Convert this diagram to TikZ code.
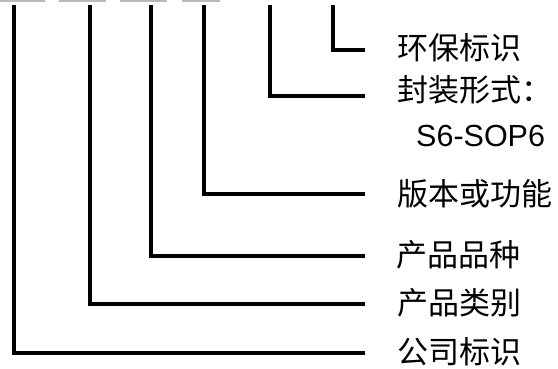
\documentclass[tikz,border=0pt]{standalone}
\usepackage{fontspec}
\setmainfont{Liberation Sans}
\newfontfamily\cjk{Noto Sans CJK SC}
\usetikzlibrary{positioning}

\begin{document}
\begin{tikzpicture}[x=1pt,y=-1pt,
        lead/.style={line width=3.2pt},
        lbl/.style={inner sep=0pt, font=\cjk\fontsize{31}{34}\selectfont},
        code/.style={inner sep=0pt, anchor=west, font=\fontsize{30.5}{34}\selectfont}]
        \useasboundingbox (0,0) rectangle (558,369);
        \draw[gray!55, line width=2pt] (0,1) -- (45,1) (59,1) -- (106,1) (120,1) -- (167,1) (182,1) -- (220,1);

        \coordinate (t0) at (14,5);
        \coordinate (t1) at (90,5);
        \coordinate (t2) at (151,5);
        \coordinate (t3) at (204,5);
        \coordinate (t4) at (270,5);
        \coordinate (t5) at (333,5);

        \coordinate (e0) at (365,353);
        \coordinate (e1) at (365,304);
        \coordinate (e2) at (365,256);
        \coordinate (e3) at (365,194);
        \coordinate (e4) at (365,96);
        \coordinate (e5) at (365,50);

        \node[lbl, right=32pt of e0, yshift=1pt] (company) {公司标识};
        \node[lbl, right=32pt of e1, yshift=1pt] (category) {产品类别};
        \node[lbl, right=31pt of e2, yshift=1pt] (variety) {产品品种};
        \node[lbl, right=32pt of e3] (version) {版本或功能};
        \node[lbl, right=32pt of e4, yshift=6pt] (package) {封装形式：};
        \node[code] (pkgcode) at (416,136) {S6-SOP6};
        \node[lbl, right=32pt of e5, yshift=2pt] (eco) {环保标识};

        \draw[lead] (t0) |- (e0);
        \draw[lead] (t1) |- (e1);
        \draw[lead] (t2) |- (e2);
        \draw[lead] (t3) |- (e3);
        \draw[lead] (t4) |- (e4);
        \draw[lead] (t5) |- (e5);
    \end{tikzpicture}
\end{document}
